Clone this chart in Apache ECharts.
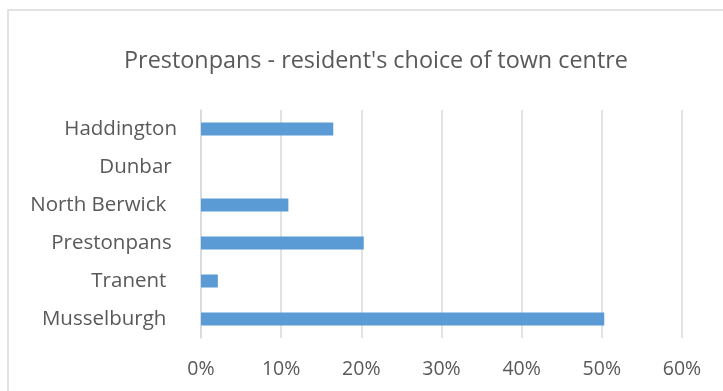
<!DOCTYPE html>
<html>
<head>
<meta charset="utf-8">
<script src="https://cdn.jsdelivr.net/npm/echarts@6/dist/echarts.min.js"></script>
<style>
  html, body { margin: 0; padding: 0; background: #fff; }
  #chart { width: 723px; height: 391px; }
</style>
</head>
<body>
<div id="chart"></div>
<script>
// town names, top to bottom (trailing spaces as in the source sheet)
const towns = ["Haddington", "Dunbar ", "North Berwick  ", "Prestonpans ", "Tranent  ", "Musselburgh  "];
// share of residents, %
const shares = [16.5, 0, 10.9, 20.3, 2.1, 50.3];
const xTicks = [0, 10, 20, 30, 40, 50, 60];

const chart = echarts.init(document.getElementById("chart"));
const font = "'Open Sans', 'Noto Sans', sans-serif";

const option = {
  animation: false,
  title: {
    text: "Prestonpans - resident's choice of town centre",
    left: 371,
    top: 45,
    textAlign: "center",
    textStyle: {
      fontFamily: font,
      fontSize: 23.4,
      fontWeight: "normal",
      color: "#595959"
    }
  },
  // chart area border (only left and top visible)
  graphic: [{
    type: "rect",
    shape: { x: 8, y: 10, width: 760, height: 420 },
    style: { fill: "none", stroke: "#d9d9d9", lineWidth: 1.5 },
    silent: true
  }],
  grid: {
    left: 201,
    right: 41,
    top: 110,
    bottom: 53
  },
  xAxis: {
    type: "value",
    min: xTicks[0],
    max: xTicks[xTicks.length - 1],
    interval: 10,
    axisLine: { show: false },
    axisTick: { show: false },
    splitLine: { lineStyle: { color: "#d9d9d9", width: 1.5 } },
    axisLabel: {
      margin: 21,
      fontFamily: font,
      fontSize: 19.5,
      color: "#595959",
      formatter: v => v + "%"
    }
  },
  yAxis: {
    type: "category",
    inverse: true,
    data: towns,
    axisLine: { show: true, lineStyle: { color: "#d9d9d9", width: 1.5 } },
    axisTick: { show: false },
    axisLabel: {
      margin: 24,
      fontFamily: font,
      fontSize: 20.5,
      color: "#595959"
    }
  },
  series: [{
    type: "bar",
    data: shares,
    barWidth: 13,
    itemStyle: { color: "#5b9bd5" }
  }]
};

chart.setOption(option);
</script>
</body>
</html>
